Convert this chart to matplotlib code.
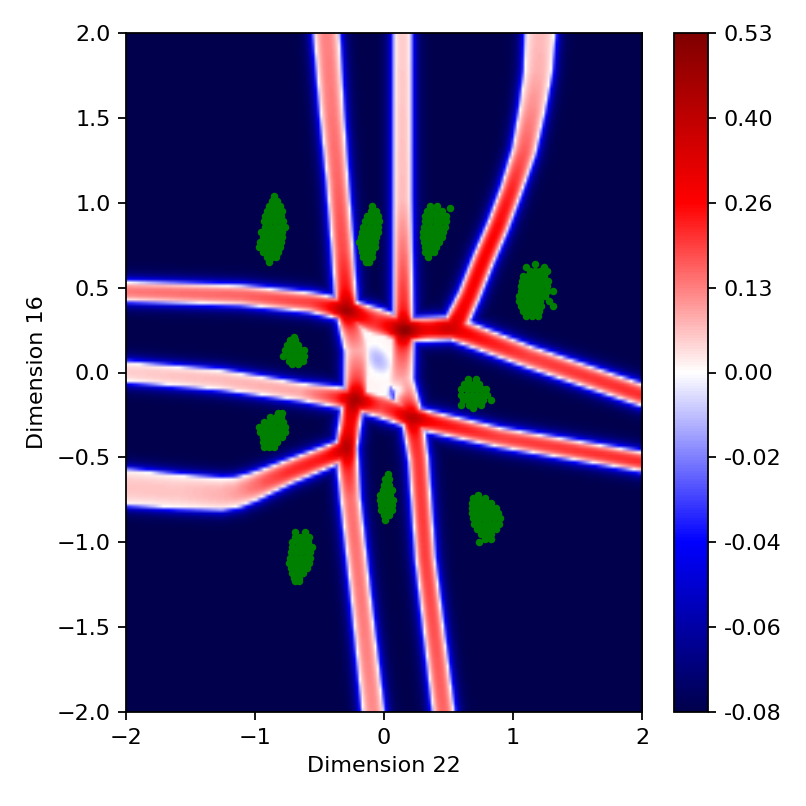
import numpy as np
import matplotlib
matplotlib.use('Agg')
import matplotlib.pyplot as plt
from matplotlib.colors import TwoSlopeNorm

# ridge centre lines: x, y, peak value, half width (px)
ridge_a_up = [(-0.45, 2.0, .13, 12), (-0.41, 1.55, .14, 11), (-0.365, 1.13, .16, 10), (-0.325, 0.72, .19, 10), (-0.295, 0.37, .28, 10)]
ridge_a_mid = [(-0.295, 0.37, .26, 10), (-0.21, 0.13, .09, 12), (-0.22, -0.15, .26, 11)]
ridge_a_low = [(-0.24, -0.15, .28, 10), (-0.295, -0.445, .28, 10), (-0.265, -0.75, .15, 9), (-0.185, -1.32, .14, 9), (-0.09, -2.0, .12, 10)]
ridge_b_up = [(0.14, 2.0, .05, 8), (0.14, 1.02, .07, 8), (0.147, 0.25, .26, 9)]
ridge_b_mid = [(0.147, 0.25, .26, 10), (0.124, -0.045, .09, 12), (0.217, -0.27, .24, 10)]
ridge_b_low = [(0.217, -0.27, .24, 10), (0.264, -0.515, .21, 9), (0.318, -1.105, .2, 9), (0.457, -2.0, .16, 10)]
ridge_c = [(1.21, 2.0, .07, 14), (1.194, 1.78, .08, 13), (1.147, 1.55, .12, 12), (1.085, 1.31, .17, 11), (0.984, 1.075, .23, 10),
           (0.884, 0.87, .26, 10), (0.767, 0.663, .27, 10), (0.66, 0.457, .27, 10), (0.55, 0.28, .28, 11)]
ridge_d = [(-2.0, 0.48, .14, 9), (-1.116, 0.457, .16, 9), (-0.574, 0.415, .2, 9), (-0.295, 0.37, .3, 10), (-0.07, 0.3, .22, 13), (0.155, 0.25, .3, 11),
           (0.527, 0.262, .28, 11), (1.13, 0.09, .2, 10), (2.0, -0.133, .22, 10)]
ridge_e = [(-2.0, 0.003, .05, 9), (-1.27, -0.044, .07, 9), (-0.65, -0.115, .09, 8), (-0.225, -0.162, .28, 10), (-0.02, -0.2, .2, 11), (0.217, -0.268, .28, 10),
           (0.9, -0.386, .2, 9), (2.0, -0.527, .22, 9)]
ridge_f = [(-2.0, -0.68, .06, 17), (-1.6, -0.705, .06, 16), (-1.27, -0.72, .08, 15), (-1.15, -0.71, .1, 14), (-1.03, -0.68, .14, 13), (-0.92, -0.645, .18, 12),
           (-0.75, -0.59, .22, 11), (-0.34, -0.468, .26, 10)]
ridges = [ridge_a_up, ridge_a_mid, ridge_a_low, ridge_b_up, ridge_b_mid, ridge_b_low, ridge_c, ridge_d, ridge_e, ridge_f]

# darker spots where the ridges cross: x, y, extra value
junctions = [(-0.295, 0.37, .16), (0.155, 0.25, .2), (0.5, 0.26, .08), (-0.225, -0.162, .16), (0.217, -0.268, .13), (-0.3, -0.445, .13)]
# pale blue dips in the middle square: x, y, depth, sigma (px)
dips = [(-0.09, 0.13, -.011, 9), (-0.05, 0.07, -.011, 10), (-0.01, 0.03, -.011, 10), (0.11, -0.105, -.1, 5)]

# green points, row by row: y, xs
cluster_1 = [(1.04, [-.85]), (1.01, [-.87, -.83]), (.98, [-.89, -.85, -.81]), (.95, [-.91, -.87, -.83, -.79]),
             (.92, [-.92, -.88, -.84, -.80]), (.89, [-.93, -.89, -.85, -.81, -.78]), (.86, [-.92, -.88, -.84, -.80, -.77]),
             (.83, [-.95, -.91, -.87, -.83, -.79]), (.80, [-.94, -.90, -.86, -.82, -.79]), (.77, [-.96, -.92, -.88, -.84, -.80]),
             (.74, [-.97, -.93, -.89, -.85, -.81]), (.71, [-.94, -.90, -.86, -.82]), (.68, [-.91, -.87, -.84]), (.65, [-.89])]
cluster_2 = [(.98, [-.09]), (.95, [-.10, -.06]), (.92, [-.13, -.09, -.05]), (.89, [-.15, -.11, -.07, -.04]),
             (.86, [-.16, -.12, -.08, -.05]), (.83, [-.17, -.13, -.09, -.05]), (.80, [-.18, -.14, -.10, -.06]),
             (.77, [-.19, -.15, -.11, -.07]), (.74, [-.18, -.14, -.10, -.07]), (.71, [-.17, -.13, -.09]),
             (.68, [-.16, -.12, -.09]), (.65, [-.14, -.12])]
cluster_3 = [(.98, [.36, .41]), (.97, [.51]), (.95, [.33, .37, .41, .45]), (.92, [.32, .36, .40, .44, .48]),
             (.89, [.32, .36, .40, .44, .48]), (.86, [.31, .35, .39, .43, .47]), (.83, [.30, .34, .38, .42, .46]),
             (.80, [.30, .34, .38, .42, .45]), (.77, [.31, .35, .39, .43]), (.74, [.32, .36, .40]),
             (.71, [.32, .36, .39]), (.68, [.34])]
cluster_4 = [(.64, [1.17]), (.62, [1.10, 1.24]), (.60, [1.13, 1.17, 1.21, 1.26]), (.57, [1.08, 1.12, 1.16, 1.20, 1.24]),
             (.54, [1.07, 1.11, 1.15, 1.19, 1.23, 1.27]), (.51, [1.06, 1.10, 1.14, 1.18, 1.22, 1.26]),
             (.48, [1.06, 1.10, 1.14, 1.18, 1.22, 1.26, 1.31]), (.45, [1.05, 1.09, 1.13, 1.17, 1.21, 1.25]),
             (.42, [1.05, 1.09, 1.13, 1.17, 1.21, 1.28]), (.39, [1.06, 1.10, 1.14, 1.18, 1.22, 1.31]),
             (.36, [1.08, 1.12, 1.16, 1.20]), (.33, [1.10, 1.15, 1.19])]
cluster_5 = [(.21, [-.70]), (.19, [-.73, -.69]), (.16, [-.75, -.71, -.67]), (.13, [-.77, -.73, -.69, -.65, -.62]),
             (.10, [-.78, -.74, -.70, -.66, -.62]), (.07, [-.74, -.70, -.66, -.63]), (.05, [-.71, -.67])]
cluster_6 = [(-.04, [.65, .71]), (-.07, [.62, .66, .70, .74]), (-.10, [.60, .64, .68, .72, .76, .79]),
             (-.13, [.60, .64, .68, .72, .76, .80]), (-.16, [.61, .65, .69, .73, .77, .83]), (-.19, [.60, .66, .70, .75]), (-.21, [.69])]
cluster_7 = [(-.24, [-.82, -.79]), (-.26, [-.88, -.84, -.80]), (-.29, [-.93, -.89, -.85, -.81, -.78]),
             (-.32, [-.97, -.93, -.89, -.85, -.81, -.77]), (-.35, [-.96, -.92, -.88, -.84, -.80, -.77]),
             (-.38, [-.94, -.90, -.86, -.82, -.79]), (-.41, [-.94, -.90, -.86, -.83]), (-.44, [-.93, -.89, -.85])]
cluster_8 = [(-.60, [.03]), (-.63, [.01, .04]), (-.66, [.00, .04]), (-.69, [-.01, .03, .06]), (-.72, [-.03, .01, .05]),
             (-.75, [-.03, .01, .05, .07]), (-.78, [-.02, .02, .06]), (-.81, [-.02, .02, .06]), (-.84, [.00, .04]), (-.87, [.01])]
cluster_9 = [(-.72, [.73]), (-.74, [.69, .73, .78]), (-.77, [.68, .72, .76, .80, .83]), (-.80, [.68, .72, .76, .80, .84, .87]),
             (-.83, [.68, .72, .76, .80, .84, .88]), (-.86, [.69, .73, .77, .81, .85, .90]), (-.89, [.70, .74, .78, .82, .86, .89]),
             (-.92, [.72, .76, .80, .84, .87]), (-.95, [.75, .79, .83]), (-.98, [.78, .83]), (-1.0, [.74])]
cluster_10 = [(-.94, [-.69, -.61]), (-.97, [-.69, -.65, -.61, -.58]), (-1.00, [-.71, -.67, -.63, -.59]),
              (-1.03, [-.71, -.67, -.63, -.59, -.56]), (-1.06, [-.72, -.68, -.64, -.60, -.57]),
              (-1.09, [-.73, -.69, -.65, -.61, -.57]), (-1.12, [-.74, -.70, -.66, -.62, -.58]),
              (-1.15, [-.72, -.68, -.64, -.60]), (-1.18, [-.71, -.67, -.63]), (-1.21, [-.70, -.66]), (-1.23, [-.69, -.66])]
clusters = [cluster_1, cluster_2, cluster_3, cluster_4, cluster_5, cluster_6, cluster_7, cluster_8, cluster_9, cluster_10]

cbar_ticks = [-0.08, -0.06, -0.04, -0.02, 0.0, 0.1325, 0.265, 0.3975, 0.53]
cbar_labels = ['-0.08', '-0.06', '-0.04', '-0.02', '0.00', '0.13', '0.26', '0.40', '0.53']

# px per data unit, so widths stay in screen terms
sx, sy = 129.0, 169.75
xs = np.linspace(-2, 2, 200)
ys = np.linspace(-2, 2, 200)
X, Y = np.meshgrid(xs, ys)


def ridge_field(pts):
    out = np.full(X.shape, -0.08)
    for (x0, y0, v0, w0), (x1, y1, v1, w1) in zip(pts[:-1], pts[1:]):
        ax_, ay_ = (x1 - x0) * sx, (y1 - y0) * sy
        bx, by = (X - x0) * sx, (Y - y0) * sy
        t = np.clip((bx * ax_ + by * ay_) / (ax_**2 + ay_**2), 0, 1)
        d = np.hypot(bx - t * ax_, by - t * ay_)
        v = v0 + t * (v1 - v0)
        w = w0 + t * (w1 - w0)
        inside = v * (1 - (d / w)**2.5)
        outside = -0.08 * (1 - np.exp(-(d - w) / 4.5))
        out = np.maximum(out, np.where(d < w, inside, outside))
    return out


Z = np.full(X.shape, -0.08)
for r in ridges:
    Z = np.maximum(Z, ridge_field(r))

# middle square between the ridges
plateau = -0.08 + 0.092 * np.exp(-(((X + 0.04) * sx / 32)**6 + ((Y - 0.06) * sy / 46)**6))
Z = np.maximum(Z, plateau)

for x0, y0, amp in junctions:
    spot = amp * np.exp(-(((X - x0) * sx)**2 + ((Y - y0) * sy)**2) / (2 * 9.0**2))
    Z = Z + spot * np.clip(Z / 0.05, 0, 1)
for x0, y0, amp, sig in dips:
    Z = Z + amp * np.exp(-(((X - x0) * sx)**2 + ((Y - y0) * sy)**2) / (2 * sig**2))

fig = plt.figure(figsize=(806 / 160, 806 / 160), dpi=160)
ax = fig.add_axes([126 / 806, 1 - 712 / 806, 516 / 806, 679 / 806])
cax = fig.add_axes([674 / 806, 1 - 712 / 806, 34 / 806, 679 / 806])

norm = TwoSlopeNorm(vmin=-0.08, vcenter=0.0, vmax=0.53)
im = ax.imshow(Z, origin='lower', extent=(-2, 2, -2, 2), aspect='auto', cmap='seismic', norm=norm, interpolation='bilinear')

for c in clusters:
    px = [x for y, row in c for x in row]
    py = [y for y, row in c for x in row]
    ax.scatter(px, py, s=11.5, c='g', linewidths=0)

ax.set_xlim(-2, 2)
ax.set_ylim(-2, 2)
ax.set_xticks([-2, -1, 0, 1, 2])
ax.set_yticks(np.arange(-2, 2.5, 0.5))
ax.set_xlabel('Dimension 22')
ax.set_ylabel('Dimension 16')

cb = fig.colorbar(im, cax=cax, ticks=cbar_ticks)
cb.ax.set_yticklabels(cbar_labels)

plt.savefig('out.png', dpi=160)
